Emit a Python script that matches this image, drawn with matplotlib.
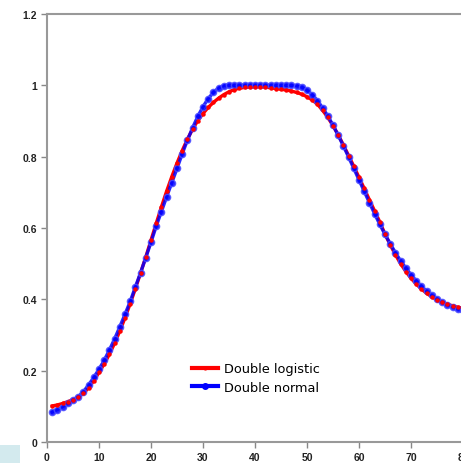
import matplotlib
matplotlib.use("Agg")
import matplotlib.pyplot as plt
from matplotlib.patches import Rectangle
import numpy as np

# day of season
days = np.arange(1, 81)

double_normal = [
    0.084, 0.091, 0.099, 0.108, 0.117, 0.127, 0.141, 0.160, 0.181, 0.204,
    0.229, 0.258, 0.289, 0.323, 0.358, 0.394, 0.435, 0.475, 0.517, 0.560,
    0.605, 0.646, 0.687, 0.727, 0.767, 0.808, 0.846, 0.881, 0.913, 0.940,
    0.963, 0.980, 0.993, 0.999, 1.000, 1.000, 1.000, 1.000, 1.000, 1.000,
    1.000, 1.000, 1.000, 1.000, 1.000, 1.000, 1.000, 0.999, 0.995, 0.986,
    0.974, 0.957, 0.937, 0.914, 0.888, 0.860, 0.830, 0.799, 0.767, 0.735,
    0.703, 0.671, 0.640, 0.610, 0.582, 0.556, 0.531, 0.508, 0.488, 0.469,
    0.452, 0.437, 0.423, 0.411, 0.401, 0.392, 0.385, 0.379, 0.373, 0.369,
]

double_logistic = [
    0.101, 0.104, 0.108, 0.113, 0.119, 0.126, 0.136, 0.152, 0.172, 0.195,
    0.219, 0.246, 0.277, 0.311, 0.348, 0.388, 0.430, 0.474, 0.519, 0.566,
    0.613, 0.659, 0.703, 0.744, 0.782, 0.817, 0.849, 0.877, 0.901, 0.921,
    0.938, 0.952, 0.964, 0.974, 0.982, 0.988, 0.992, 0.994, 0.995, 0.996,
    0.996, 0.995, 0.993, 0.991, 0.989, 0.987, 0.984, 0.980, 0.975, 0.968,
    0.959, 0.947, 0.930, 0.910, 0.887, 0.861, 0.833, 0.803, 0.773, 0.742,
    0.711, 0.679, 0.648, 0.617, 0.583, 0.553, 0.525, 0.500, 0.478, 0.459,
    0.443, 0.429, 0.417, 0.407, 0.399, 0.392, 0.386, 0.382, 0.378, 0.375,
]

x_ticks = [0, 10, 20, 30, 40, 50, 60, 70, 80]
y_ticks = [0, 0.2, 0.4, 0.6, 0.8, 1.0, 1.2]
y_labels = ["0", "0.2", "0.4", "0.6", "0.8", "1", "1.2"]

fig = plt.figure(figsize=(4.61, 4.64), dpi=100)
ax = fig.add_axes([47 / 461, 21 / 464, 416 / 461, 428 / 464])

# red line underneath, blue markers on top, red dots last
ax.plot(days, double_logistic, color="red", lw=2.4, zorder=2)
ax.plot(days, double_normal, color="blue", lw=2.4, marker="o", ms=4.5,
        markeredgecolor=(0.3, 0.3, 1.0), markerfacecolor="blue",
        alpha=0.85, zorder=3)
ax.plot(days, double_logistic, color="red", lw=0, marker="o", ms=2.2,
        zorder=4)

# legend proxies
ax.plot([], [], color="red", lw=3, marker="o", ms=2, label="Double logistic")
ax.plot([], [], color="blue", lw=3, marker="o", ms=4, label="Double normal")
ax.legend(loc="lower left", bbox_to_anchor=(0.32, 0.085), frameon=False,
          fontsize=9.3, handlelength=2.0, handletextpad=0.5, labelspacing=0.45)

ax.set_xlim(0, 80)
ax.set_ylim(0, 1.2)
ax.set_xticks(x_ticks)
ax.set_yticks(y_ticks)
ax.set_yticklabels(y_labels)
for lab in ax.get_xticklabels() + ax.get_yticklabels():
    lab.set_fontfamily("Liberation Sans")
    lab.set_fontweight("bold")
    lab.set_fontsize(7.5)
    lab.set_color("#222222")
ax.tick_params(axis="both", direction="out", length=4, width=1,
               color="#888888", pad=3)

for side in ["left", "bottom", "top", "right"]:
    ax.spines[side].set_color("#999999")
    ax.spines[side].set_linewidth(1.5)

# stray light-blue box in the corner
fig.patches.append(Rectangle((0, 0), 20 / 461, 18 / 464, transform=fig.transFigure,
                             facecolor="#d3eaee", edgecolor="none"))

fig.savefig("out.png", dpi=100)
